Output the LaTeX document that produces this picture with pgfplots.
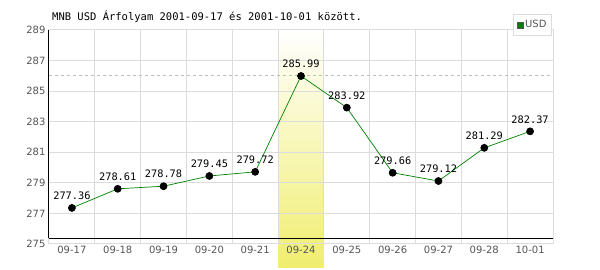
\documentclass[border=0pt]{standalone}
\usepackage{pgfplots}
\pgfplotsset{compat=1.18}
\usepackage{fontspec}
\setmainfont{DejaVu Sans}
\newfontfamily\monofont{DejaVu Sans Mono}
\definecolor{lg}{RGB}{220,220,220}
\definecolor{tk}{RGB}{85,85,85}
\definecolor{ln}{RGB}{0,128,0}
\definecolor{yb}{RGB}{240,238,110}
\definecolor{dsh}{RGB}{180,195,180}
\begin{document}
\begin{tikzpicture}
\begin{axis}[set layers, at={(0,0)}, anchor=south west, scale only axis,
  width=504pt, height=214pt,
  xmin=-0.5, xmax=10.5, ymin=275, ymax=289, clip=false,
  xtick={0,...,10},
  xticklabels={09-17,09-18,09-19,09-20,09-21,09-24,09-25,09-26,09-27,09-28,10-01},
  minor xtick={0.5,1.5,...,9.5},
  ytick={275,277,...,289},
  ymajorgrids, xminorgrids,
  major grid style={lg, line width=1pt},
  minor grid style={lg, line width=1pt},
  major tick length=0pt, minor tick length=0pt,
  axis line style={lg, line width=1pt},
  tick label style={font=\fontsize{10}{12}\selectfont, text=tk},
  xticklabel style={yshift=1pt},
  /pgf/number format/assume math mode=true,
  legend style={draw=lg, line width=1pt, fill=white, font=\fontsize{10}{12}\selectfont\color{tk},
    at={(1,1)}, anchor=north east, yshift=16pt, xshift=-1pt, inner xsep=3pt, inner ysep=4pt},
  legend cell align=left,
]
\begin{pgfonlayer}{axis background}
\shade[top color=white, bottom color=yb] (axis cs:4.5,273.43) rectangle (axis cs:5.5,289);
\end{pgfonlayer}
\draw[dsh, dash pattern=on 3pt off 3pt, line width=0.8pt] (axis cs:-0.5,286) -- (axis cs:10.5,286);
\draw[black, line width=1pt] (axis cs:-0.5,275.39) -- (axis cs:10.5,275.39);
\draw[black, line width=1pt] (axis cs:-0.5,275.39) -- (axis cs:-0.5,289);
\addplot[ln, line width=0.7pt, mark=*, mark size=3.5pt, mark options={black, fill=black},
  nodes near coords, point meta=explicit symbolic,
  nodes near coords style={font=\monofont\fontsize{10.3}{12}\selectfont, text=black, anchor=south, yshift=4.5pt},
  legend image code/.code={\draw[draw=tk, fill=ln, line width=0.6pt] (0pt,-3pt) rectangle (6pt,3pt);}]
  coordinates {
  (0,277.36) [277.36]
  (1,278.61) [278.61]
  (2,278.78) [278.78]
  (3,279.45) [279.45]
  (4,279.72) [279.72]
  (5,285.99) [285.99]
  (6,283.92) [283.92]
  (7,279.66) [279.66]
  (8,279.12) [279.12]
  (9,281.29) [281.29]
  (10,282.37) [282.37]
  };
\addlegendentry{USD}
\node[anchor=base west, font=\monofont\fontsize{10.5}{12}\selectfont, text=black, inner sep=0pt]
  at (rel axis cs:0,1) [xshift=3pt, yshift=9pt] {MNB USD Árfolyam 2001-09-17 és 2001-10-01 között.};
\end{axis}
\pgfresetboundingbox
\path (-49pt,-26pt) rectangle (551pt,244pt);
\end{tikzpicture}
\end{document}
